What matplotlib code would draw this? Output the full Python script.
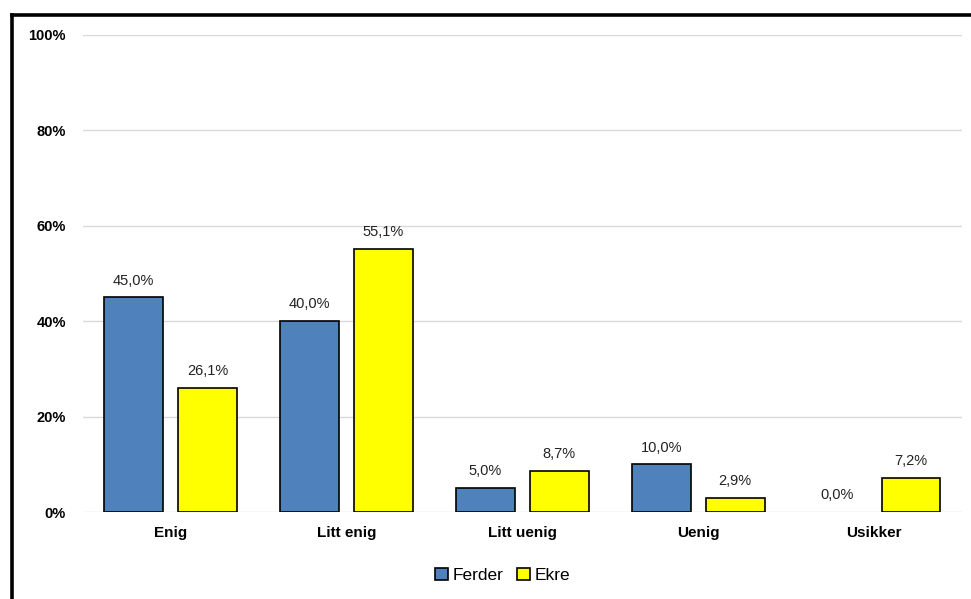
import matplotlib
matplotlib.use("Agg")
import matplotlib.pyplot as plt
import numpy as np
from matplotlib.lines import Line2D

plt.rcParams['font.family'] = ['Liberation Sans', 'DejaVu Sans']

# svarfordeling
kategorier = ['Enig', 'Litt enig', 'Litt uenig', 'Uenig', 'Usikker']
ferder = [45.0, 40.0, 5.0, 10.0, 0.0]
ekre = [26.1, 55.1, 8.7, 2.9, 7.2]

fig = plt.figure(figsize=(9.71, 5.99), dpi=100)
ax = fig.add_axes([0.085, 0.1452, 0.9057, 0.7964])

x = np.arange(len(kategorier))
w = 0.335
# ingen kantlinje på søyler med null
lw1 = [1.2 if v > 0 else 0 for v in ferder]
lw2 = [1.2 if v > 0 else 0 for v in ekre]
b1 = ax.bar(x - 0.21, ferder, w, color='#4f81bd', edgecolor='black', linewidth=lw1, label='Ferder', zorder=3)
b2 = ax.bar(x + 0.21, ekre, w, color='#ffff00', edgecolor='black', linewidth=lw2, label='Ekre', zorder=3)

for bars, vals in ((b1, ferder), (b2, ekre)):
    for r, v in zip(bars, vals):
        ax.annotate(f"{v:.1f}%".replace('.', ','), (r.get_x() + r.get_width() / 2, v),
                    xytext=(0, 7), textcoords='offset points', ha='center', va='bottom',
                    fontsize=10.5, color='#222222')

ax.set_xlim(-0.5, 4.5)
ax.set_ylim(0, 100)
ax.set_yticks([0, 20, 40, 60, 80, 100])
ax.set_yticklabels([f"{t}%" for t in range(0, 101, 20)], fontweight='bold', fontsize=10.5)
ax.set_xticks(x)
ax.set_xticklabels(kategorier, fontweight='bold', fontsize=11)
ax.tick_params(axis='y', length=0, pad=12)
ax.tick_params(axis='x', length=0, pad=10)
ax.yaxis.grid(True, color='#d9d9d9', linewidth=1, zorder=0)
for s in ax.spines.values():
    s.set_visible(False)

ax.legend(loc='upper center', bbox_to_anchor=(0.478, -0.085), ncol=2, frameon=False,
          fontsize=12.5, handlelength=0.7, handleheight=0.7, handletextpad=0.3, columnspacing=0.8)

# ramme rundt diagrammet
fig.add_artist(Line2D([11.5 / 971, 11.5 / 971], [0, 1 - 14.5 / 599], color='black', linewidth=2.6, transform=fig.transFigure))
fig.add_artist(Line2D([11.5 / 971, 1], [1 - 14.5 / 599, 1 - 14.5 / 599], color='black', linewidth=2.6, transform=fig.transFigure))

fig.savefig('out.png', dpi=100)
